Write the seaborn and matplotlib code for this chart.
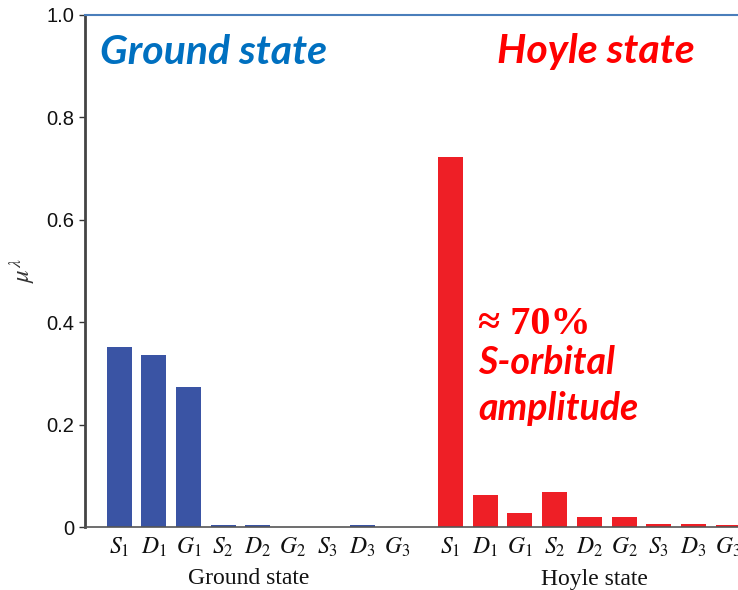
import matplotlib
matplotlib.use("Agg")
import matplotlib.pyplot as plt
import matplotlib.transforms as mtransforms
import seaborn as sns
import pandas as pd

# ---- data ----
orbitals = ["S_1", "D_1", "G_1", "S_2", "D_2", "G_2", "S_3", "D_3", "G_3"]
ground_values = [0.351, 0.337, 0.273, 0.004, 0.004, 0.0, 0.0, 0.004, 0.0]
hoyle_values = [0.722, 0.064, 0.028, 0.068, 0.020, 0.020, 0.007, 0.007, 0.004]
group_labels = ["Ground state", "Hoyle state"]
group_offset = 9.55
yticks = [0, 0.2, 0.4, 0.6, 0.8, 1.0]
ytick_labels = ["0", "0.2", "0.4", "0.6", "0.8", "1.0"]

blue = "#3a54a4"
red = "#ee1f26"

sns.set_theme(style="white")
plt.rcParams["font.family"] = ["Liberation Sans", "DejaVu Sans"]
plt.rcParams["mathtext.fontset"] = "stix"

ground_pos = list(range(len(orbitals)))
hoyle_pos = [group_offset + i for i in range(len(orbitals))]

df = pd.DataFrame({
    "pos": ground_pos + hoyle_pos,
    "value": ground_values + hoyle_values,
    "state": [group_labels[0]] * len(orbitals) + [group_labels[1]] * len(orbitals),
})

W, H = 738, 590
fig = plt.figure(figsize=(W / 100, H / 100), dpi=100)
x_left, x_right = -0.985, 18.5
unit_px = 34.7
ax_w_px = (x_right - x_left) * unit_px
ax = fig.add_axes([85 / W, 62.7 / H, ax_w_px / W, (527.3 - 15) / H])

sns.barplot(data=df, x="pos", y="value", hue="state",
            palette={group_labels[0]: blue, group_labels[1]: red},
            native_scale=True, width=0.72, dodge=False, legend=False,
            saturation=1, ax=ax, linewidth=0)

ax.set_xlim(x_left, x_right)
ax.set_ylim(0, 1.0)
ax.set_yticks(yticks)
ax.set_yticklabels(ytick_labels, fontsize=14.5, color="#111111")
ax.set_xticks(ground_pos + hoyle_pos)
ax.set_xticklabels([f"${o}$" for o in orbitals] * 2, fontsize=17, color="#111111")
ax.tick_params(axis="x", length=0, pad=6)
ax.tick_params(axis="y", direction="out", length=4, width=1, color="#333333",
               pad=4, left=True)
ax.set_xlabel("")
ax.set_ylabel(r"$\mu^{\lambda}$", fontsize=18, color="#333333", va="center")
ax.yaxis.set_label_coords((22 - 85) / ax_w_px, (527.3 - 270) / 512.3)

ax.spines["left"].set_color("#444444")
ax.spines["left"].set_linewidth(2)
ax.spines["bottom"].set_linewidth(1.2)
ax.spines["bottom"].set_color("#555555")
ax.spines["top"].set_color("#4a7ebb")
ax.spines["top"].set_linewidth(1.5)
ax.spines["right"].set_visible(False)

# group labels below ticks
trans = mtransforms.blended_transform_factory(ax.transData, fig.transFigure)
serif = ["Liberation Serif", "DejaVu Serif"]
ax.text(3.74, 1 - 579 / H, group_labels[0], transform=trans, ha="center", va="center",
        fontsize=17, family=serif, color="#111111")
ax.text(13.7, 1 - 579 / H, group_labels[1], transform=trans, ha="center", va="center",
        fontsize=17, family=serif, color="#111111")

# annotations
ann_font = ["Lato", "DejaVu Sans"]
fig.text(100 / W, 1 - 52 / H, "Ground state", ha="left", va="center", fontsize=29.5,
         fontweight="bold", fontstyle="italic", family=ann_font, color="#0070c0")
fig.text(497 / W, 1 - 52 / H, "Hoyle state", ha="left", va="center", fontsize=29.5,
         fontweight="bold", fontstyle="italic", family=ann_font, color="#ff0000")
fig.text(478 / W, 1 - 324 / H, "≈ 70%", ha="left", va="center", fontsize=29,
         fontweight="bold", family=serif, color="#ff0000")
fig.text(478 / W, 1 - 363 / H, "S-orbital", ha="left", va="center", fontsize=27,
         fontweight="bold", fontstyle="italic", family=ann_font, color="#ff0000")
fig.text(478 / W, 1 - 408 / H, "amplitude", ha="left", va="center", fontsize=27,
         fontweight="bold", fontstyle="italic", family=ann_font, color="#ff0000")

fig.savefig("out.png", dpi=100)
